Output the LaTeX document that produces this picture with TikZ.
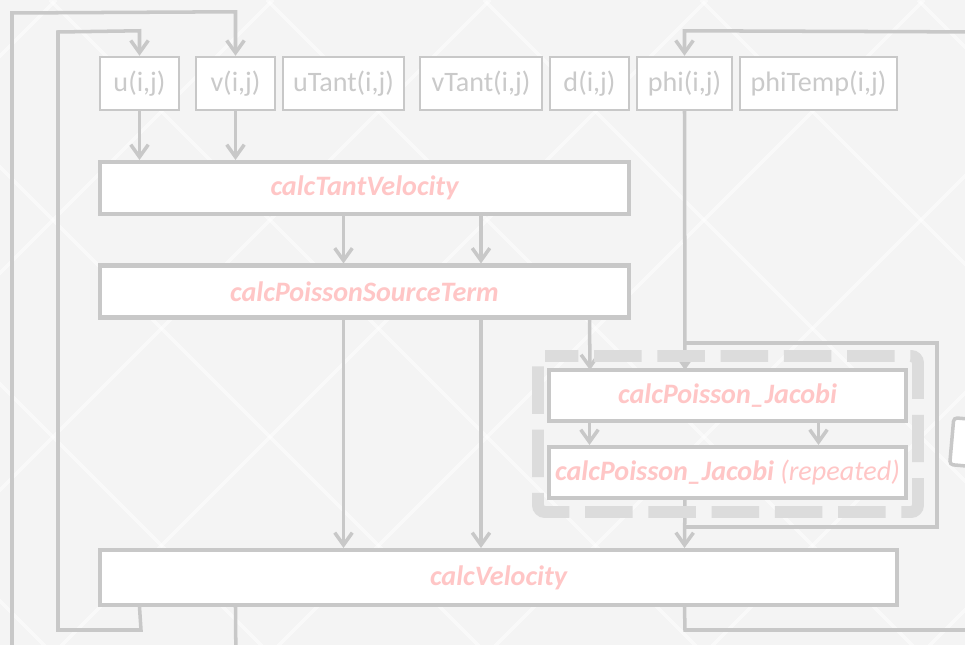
\documentclass[tikz,border=0pt]{standalone}
\usepackage{fontspec}
\setmainfont{Carlito}
\usetikzlibrary{arrows.meta, calc}

\definecolor{bgfill}{HTML}{F4F4F4}
\definecolor{linegray}{HTML}{C8C8C8}
\definecolor{textgray}{HTML}{CACACA}
\definecolor{funcpink}{HTML}{FFC6C6}
\definecolor{dashgray}{HTML}{DCDCDC}

\begin{document}
\begin{tikzpicture}[x=0.02cm, y=-0.02cm, line width=2pt,
    every node/.style={font=\fontsize{16}{19}\selectfont},
    varbox/.style={draw=linegray, line width=1.4pt, fill=white, text=textgray,
        minimum height=1.06cm, inner sep=0pt},
    funcbox/.style={draw=linegray, line width=2.3pt, fill=white, text=funcpink,
        minimum height=1.04cm, inner sep=0pt,
        font=\fontsize{16}{19}\selectfont\bfseries\itshape},
    flow/.style={draw=linegray, -{Straight Barb[length=7pt, width=10pt, line width=2pt]}},
    wire/.style={draw=linegray},
    bgline/.style={white, line width=2pt, opacity=0.5},
]
    \clip (0, 0) rectangle (965, 645);
    \fill [bgfill] (0, 0) rectangle (965, 645);

    % background lattice
    \foreach \k in {-2, ..., 5} {
        \draw [bgline] (490+217*\k, 0) -- ++(-660, 660);
    }
    \foreach \k in {-3, ..., 4} {
        \draw [bgline] (50+217*\k, 0) -- ++(660, 660);
    }

    % variables
    \node [varbox, minimum width=1.58cm] (u) at (139.5, 83.5) {u(i,j)};
    \node [varbox, minimum width=1.58cm] (v) at (235.5, 83.5) {v(i,j)};
    \node [varbox, minimum width=2.42cm] (uTant) at (343.5, 83.5) {uTant(i,j)};
    \node [varbox, minimum width=2.44cm] (vTant) at (481, 83.5) {vTant(i,j)};
    \node [varbox, minimum width=1.58cm] (d) at (589.5, 83.5) {d(i,j)};
    \node [varbox, minimum width=1.90cm] (phi) at (684.5, 83.5) {phi(i,j)};
    \node [varbox, minimum width=3.14cm] (phiTemp) at (818.5, 83.5) {phiTemp(i,j)};

    % kernels
    \node [funcbox, minimum width=10.58cm] (tant) at (364.5, 188) {calcTantVelocity};
    \node [funcbox, minimum width=10.58cm] (source) at (364.5, 291.5) {calcPoissonSourceTerm};
    \node [funcbox, minimum width=15.94cm, minimum height=1.1cm] (vel) at (498.5, 577.5) {calcVelocity};

    % inputs
    \draw [flow] (u.south) -- (tant.north -| u);
    \draw [flow] (v.south) -- (tant.north -| v);
    \draw [flow] (tant.south -| uTant) -- (source.north -| uTant);
    \draw [flow] (tant.south -| vTant) -- (source.north -| vTant);
    \draw [flow] (source.south -| uTant) -- (vel.north -| uTant);
    \draw [flow] (source.south -| vTant) -- (vel.north -| vTant);

    % jacobi iteration
    \coordinate (jacin) at (685, 343);
    \coordinate (jacout) at (685, 527);
    \draw [flow] (source.south -| d) -- (590, 370);
    \draw [flow] (phi.south) -- (685, 370);
    \draw [wire] (jacin) -- (937, 343) -- (937, 527) -- (jacout);
    \draw [flow] (685, 498) -- (vel.north -| phi);

    \draw [dashgray, line width=6.8pt, dash pattern=on 27pt off 9pt, dash phase=8pt, rounded corners=4pt]
        (538, 356) -- (918, 356) -- (918, 512) -- (538, 512) -- cycle;

    \node [funcbox, minimum width=7.14cm, minimum height=1.02cm] (jac) at (727.5, 395.5) {calcPoisson\_Jacobi};
    \node [funcbox, minimum width=7.14cm, minimum height=1.02cm] (rep) at (727.5, 472.5)
        {calcPoisson\_Jacobi \mdseries(repeated)};
    \draw [flow] (jac.south -| d) -- (rep.north -| d);
    \draw [flow] (jac.south -| phiTemp) -- (rep.north -| phiTemp);

    % loops back
    \draw [flow] (vel.south -| u) -- (141, 630) -- (58, 630) -- (58, 32) -- ($ (u.north) + (0, -25) $) -- (u.north);
    \draw [flow] (vel.south -| v) -- (236, 670) -- (12, 670) -- (12, 13) -- ($ (v.north) + (0, -44) $) -- (v.north);
    \draw [flow] (vel.south -| phi) -- (685, 630) -- (990, 630) -- (990, 32) -- ($ (phi.north) + (0, -25) $) -- (phi.north);

    % cut at right edge
    \node [draw=linegray, line width=2pt, fill=white, rounded corners=2pt, rotate=-5,
        minimum width=1.6cm, minimum height=0.94cm, anchor=west] (offpage) at (950, 441) {};
\end{tikzpicture}
\end{document}
